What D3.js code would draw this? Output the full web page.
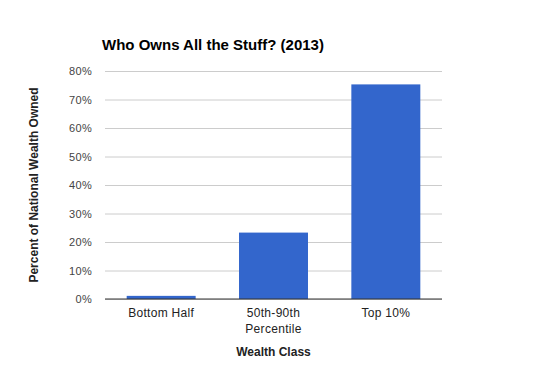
<!DOCTYPE html>
<html>
<head>
<meta charset="utf-8">
<script src="https://cdn.jsdelivr.net/npm/d3@7"></script>
<style>
  body { margin: 0; background: #fff; }
  svg { font-family: "Liberation Sans", Arial, sans-serif; }
</style>
</head>
<body>
<svg id="chart" width="546" height="371"></svg>
<script>
// data
var categories = ['Bottom Half', '50th-90th Percentile', 'Top 10%'];
var shares = [1.1, 23.3, 75.3];
var yTicks = [0, 10, 20, 30, 40, 50, 60, 70, 80];

var svg = d3.select('#chart');
var plotLeft = 105, plotRight = 442, plotTop = 71, plotBottom = 299;

var x = d3.scaleBand()
	.domain(categories)
	.range([plotLeft, plotRight])
	.paddingInner(0.386)
	.paddingOuter(0.193);

var y = d3.scaleLinear()
	.domain([0, 80])
	.range([plotBottom, plotTop]);

svg.append('rect')
	.attr('width', 546)
	.attr('height', 371)
	.attr('fill', '#fff');

// gridlines + tick labels
var yAxis = d3.axisLeft(y)
	.tickValues(yTicks)
	.tickFormat(function(d) { return d + '%'; })
	.tickSize(-(plotRight - plotLeft))
	.tickPadding(13);

var ga = svg.append('g')
	.attr('transform', 'translate(' + plotLeft + ',0)')
	.call(yAxis);
ga.select('.domain').remove();
ga.selectAll('.tick line').attr('stroke', '#cccccc');
ga.selectAll('.tick text')
	.attr('fill', '#444')
	.style('font-size', '11px')
	.style('letter-spacing', '0.3px');

// bars
svg.append('g').selectAll('rect')
	.data(shares)
	.join('rect')
	.attr('x', function(d, i) { return x(categories[i]); })
	.attr('y', function(d) { return y(d); })
	.attr('width', x.bandwidth())
	.attr('height', function(d) { return y(0) - y(d); })
	.attr('fill', '#3366cc');

// baseline
svg.append('line')
	.attr('x1', plotLeft)
	.attr('x2', plotRight)
	.attr('y1', y(0))
	.attr('y2', y(0))
	.attr('stroke', '#333');

// category labels (wrapped)
var labelLines = {
	'Bottom Half': ['Bottom Half'],
	'50th-90th Percentile': ['50th-90th', 'Percentile'],
	'Top 10%': ['Top 10%']
};
var lab = svg.append('g').selectAll('text')
	.data(categories)
	.join('text')
	.attr('text-anchor', 'middle')
	.attr('fill', '#222')
	.style('font-size', '12px')
	.style('letter-spacing', '0.3px');
lab.each(function(c) {
	var t = d3.select(this);
	labelLines[c].forEach(function(s, j) {
		t.append('tspan')
			.attr('x', x(c) + x.bandwidth() / 2)
			.attr('y', 317 + j * 16)
			.text(s);
	});
});

// title
svg.append('text')
	.attr('x', 102)
	.attr('y', 50)
	.attr('fill', '#000')
	.style('font-size', '15px')
	.style('font-weight', 'bold')
	.text('Who Owns All the Stuff? (2013)');

// axis titles
svg.append('text')
	.attr('x', (plotLeft + plotRight) / 2)
	.attr('y', 356)
	.attr('text-anchor', 'middle')
	.attr('fill', '#222')
	.style('font-size', '12px')
	.style('font-weight', 'bold')
	.text('Wealth Class');

svg.append('text')
	.attr('transform', 'translate(38,' + (plotTop + plotBottom) / 2 + ') rotate(-90)')
	.attr('text-anchor', 'middle')
	.attr('fill', '#222')
	.style('font-size', '12px')
	.style('font-weight', 'bold')
	.text('Percent of National Wealth Owned');
</script>
</body>
</html>
